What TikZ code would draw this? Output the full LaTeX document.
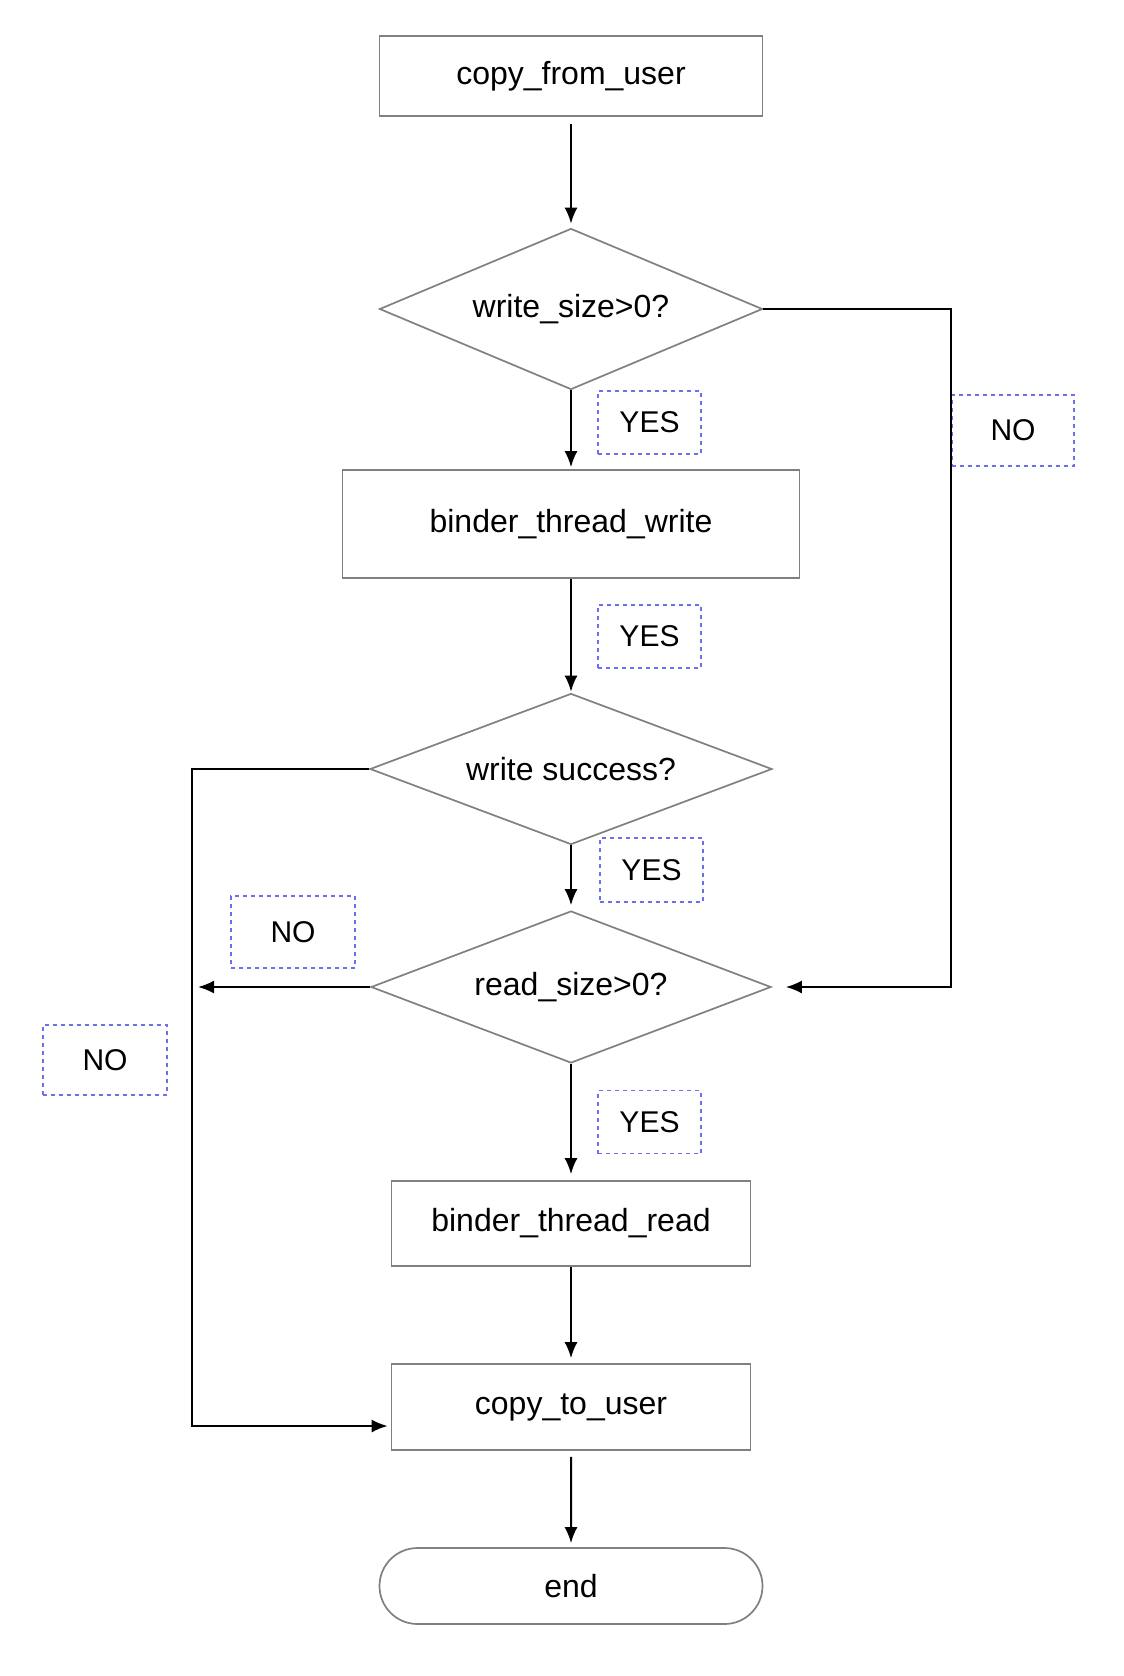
\documentclass[tikz,border=0pt]{standalone}
\usepackage{fontspec}
\setmainfont{Liberation Sans}
\usetikzlibrary{arrows.meta,shapes.geometric,shapes.misc}
\definecolor{boxgray}{RGB}{128,128,128}
\definecolor{lblblue}{RGB}{110,110,245}
\begin{document}
\begin{tikzpicture}[x=0.5pt,y=-0.5pt,
  proc/.style={draw=boxgray,line width=0.85pt,rectangle,inner sep=0pt,font=\fontsize{16}{19}\selectfont},
  dec/.style={draw=boxgray,line width=0.85pt,diamond,shape aspect=2.4,inner sep=0pt,font=\fontsize{16}{19}\selectfont},
  term/.style={draw=boxgray,line width=0.85pt,rounded rectangle,inner sep=0pt,font=\fontsize{16}{19}\selectfont},
  lbl/.style={draw=lblblue,dash pattern=on 2pt off 2pt,line width=0.7pt,inner sep=0pt,minimum width=51.5pt,minimum height=31.5pt,font=\fontsize{15}{18}\selectfont},
  arr/.style={draw=black,line width=1pt,-{Latex[length=8pt,width=6.5pt]}}]
\useasboundingbox (0,0) rectangle (1124,1676);

\node[proc,minimum width=191.5pt,minimum height=40pt] (cfu) at (571,76) {copy\_from\_user};
\node[dec,minimum width=191.5pt,minimum height=80.5pt] (d1) at (571,309) {write\_size>0?};
\node[proc,minimum width=228.5pt,minimum height=54pt] (bw) at (571,524) {binder\_thread\_write};
\node[dec,minimum width=201pt,minimum height=75.5pt] (d2) at (571,769) {write success?};
\node[dec,minimum width=200pt,minimum height=76pt] (d3) at (571,987) {read\_size>0?};
\node[proc,minimum width=179.5pt,minimum height=42.5pt] (br) at (571,1223.5) {binder\_thread\_read};
\node[proc,minimum width=179.5pt,minimum height=43pt] (ctu) at (571,1407) {copy\_to\_user};
\node[term,minimum width=191.5pt,minimum height=38pt] (end) at (571,1586) {end};

\node[lbl] (y1) at (649.5,422.5) {YES};
\node[lbl] (y2) at (649.5,636.5) {YES};
\node[lbl,minimum height=32pt] (y3) at (651.5,870) {YES};
\node[lbl] (y4) at (649.5,1122) {YES};
\node[lbl,minimum width=61pt,minimum height=35.5pt] (n1) at (1013,430.5) {NO};
\node[lbl,minimum width=62pt,minimum height=36pt] (n2) at (293,932) {NO};
\node[lbl,minimum width=62pt,minimum height=35pt] (n3) at (105,1060) {NO};

\coordinate (rc) at (951,309);
\coordinate (lc) at (192,765);
\coordinate (lb) at (192,1426);

\draw[arr,shorten <=3.5pt,shorten >=2pt] (cfu) -- (d1);
\draw[arr,shorten >=1pt] (d1) -- (bw);
\draw[arr,shorten >=0.5pt] (bw) -- (d2);
\draw[arr,shorten >=2.5pt] (d2) -- (d3);
\draw[arr,shorten >=3pt] (d3) -- (br);
\draw[arr,shorten >=2.5pt] (br) -- (ctu);
\draw[arr,shorten <=3pt,shorten >=2pt] (ctu) -- (end);

\draw[arr,shorten >=7pt] (d1.east) -- (rc) |- (d3.east);
\draw[arr,shorten >=1.5pt] (d2.west) -| (lb) -- (lb -| ctu.west);
\draw[arr,shorten >=3pt] (d3.west) -- (d3.west -| lc);
\end{tikzpicture}
\end{document}
